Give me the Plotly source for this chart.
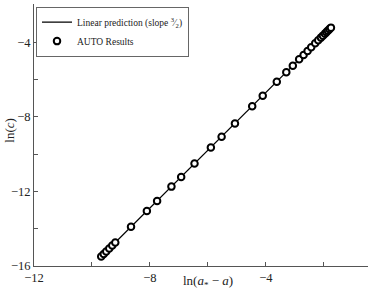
import plotly.graph_objects as go

# AUTO continuation results: ln(a* - a) and ln(c)
auto_x = [-9.682, -9.595, -9.509, -9.405, -9.301, -9.197, -8.654, -8.107, -7.754,
          -7.260, -6.924, -6.464, -5.900, -5.529, -5.069, -4.474, -4.111, -3.626,
          -3.298, -3.073, -2.855, -2.702, -2.564, -2.439, -2.301, -2.197, -2.104,
          -2.035, -1.965, -1.913, -1.862, -1.810, -1.758]
auto_y = [-15.491, -15.357, -15.223, -15.062, -14.901, -14.740, -13.898, -13.056, -12.509,
          -11.743, -11.223, -10.509, -9.641, -9.067, -8.354, -7.432, -6.869, -6.118,
          -5.614, -5.265, -4.917, -4.681, -4.466, -4.273, -4.059, -3.898, -3.753,
          -3.646, -3.539, -3.458, -3.378, -3.297, -3.217]

# Linear prediction endpoints
line_x = [-9.682, -1.758]
line_y = [-15.491, -3.217]

x_ticks = [-12, -8, -4]
y_ticks = [-16, -12, -8, -4]

FONT = "Liberation Serif"

fig = go.Figure()
fig.add_trace(go.Scatter(
    x=line_x, y=line_y, mode="lines",
    line=dict(color="black", width=1.2),
    name="Linear prediction (slope <sup>3</sup>⁄<sub>2</sub>)",
))
fig.add_trace(go.Scatter(
    x=auto_x, y=auto_y, mode="markers",
    marker=dict(symbol="circle", size=6.5, color="white",
                line=dict(color="black", width=2)),
    name="AUTO Results",
))

axis_common = dict(
    showgrid=False, zeroline=False, showline=True, linecolor="#555", linewidth=1,
    ticks="inside", ticklen=4, tickcolor="#555", tickwidth=1, automargin=False,
    tickfont=dict(family=FONT, size=12.5, color="#222"),
    minor=dict(ticks="inside", ticklen=4, tickcolor="#555", tickwidth=1, dtick=2),
)

fig.update_layout(
    width=374, height=292,
    margin=dict(l=34, r=6, t=4, b=26, autoexpand=False),
    paper_bgcolor="white", plot_bgcolor="white",
    font=dict(family=FONT, color="#222"),
    showlegend=True,
    legend=dict(
        x=0.006, y=0.99, xanchor="left", yanchor="top",
        bgcolor="white", bordercolor="#666", borderwidth=1,
        font=dict(family=FONT, size=9.5, color="#222"),
        itemwidth=30, tracegroupgap=0,
    ),
    xaxis=dict(
        range=[-12, -0.48], tickmode="array", tickvals=x_ticks,
        **axis_common,
    ),
    yaxis=dict(
        range=[-16, -1.95], tickmode="array", tickvals=y_ticks,
        **axis_common,
    ),
    annotations=[
        dict(text="ln(<i>a</i><sub>*</sub> − <i>a</i>)", xref="paper", yref="paper",
             x=0.52, y=-0.058, xanchor="center", yanchor="middle", showarrow=False,
             font=dict(family=FONT, size=13, color="#222")),
        dict(text="ln(<i>c</i>)", xref="paper", yref="paper", textangle=-90,
             x=-0.072, y=0.52, xanchor="center", yanchor="middle", showarrow=False,
             font=dict(family=FONT, size=13, color="#222")),
    ],
)

fig.write_html(
    "out.html",
    config={"displayModeBar": False},
    post_script="document.body.style.margin='0';document.body.style.overflow='hidden';",
)
